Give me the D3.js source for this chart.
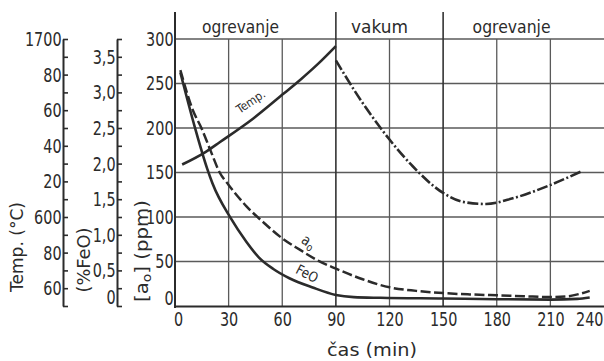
<!DOCTYPE html>
<html><head><meta charset="utf-8">
<script src="https://cdn.jsdelivr.net/npm/d3@7"></script>
<style>
html,body{margin:0;padding:0;background:#fff;}
svg{display:block;}
text{font-family:"DejaVu Sans",sans-serif;fill:#2b2b2b;}
</style></head><body>
<svg id="c" width="604" height="361"></svg>
<script>
// ---------- data ----------
const sections = ["ogrevanje", "vakum", "ogrevanje"];
const sectionStarts = [0, 90, 150];
const timeTicks = [0, 30, 60, 90, 120, 150, 180, 210, 240];
const ppmTicks = [0, 50, 100, 150, 200, 250, 300];
const feoTicks = [0, 0.5, 1, 1.5, 2, 2.5, 3, 3.5];
const feoTickLabels = ["0", "0,5", "1,0", "1,5", "2,0", "2,5", "3,0", "3,5"];
const tempTicks = [1560, 1580, 1600, 1620, 1640, 1660, 1680, 1700];
const tempTickLabels = ["60", "80", "600", "20", "40", "60", "80", "1700"];

const tempHeatTime = [4, 17, 25, 44, 61, 70, 80, 90];
const tempHeat = [1629.5, 1636.5, 1642, 1655.5, 1669.5, 1677, 1686, 1696];
const tempVacTime = [90, 104, 115, 120, 133, 150, 161, 174, 189, 210, 227];
const tempVac = [1688, 1665.5, 1650, 1643.5, 1628.5, 1613.5, 1608.5, 1607.3, 1610.5, 1618, 1625.5];
const aoTime = [3, 10, 15, 20, 25, 30, 40, 50, 60, 70, 80, 90, 105, 120, 135, 150, 165, 180, 195, 210, 220, 227, 232];
const aoPpm = [265, 220, 199, 174, 150, 136, 112, 93, 76, 63, 51, 42, 30, 21, 17, 14.5, 13, 12, 11, 10, 11, 14, 17];
const feoTime = [3, 11, 18, 21, 31, 40, 47, 55, 64, 77, 90, 100, 115, 150, 180, 210, 225, 232];
const feoPct = [3.28, 2.52, 1.93, 1.72, 1.24, 0.90, 0.68, 0.52, 0.39, 0.26, 0.155, 0.125, 0.115, 0.105, 0.095, 0.09, 0.10, 0.12];

// ---------- layout ----------
const svg = d3.select("#c");
const ink = "#2b2b2b", gridC = "#5a5a5a";
const x = d3.scaleLinear().domain([0, 240]).range([175, 604]);
const yP = d3.scaleLinear().domain([0, 300]).range([306, 39]);
const yF = d3.scaleLinear().domain([0, 3.75]).range([306, 39]);
const yT = d3.scaleLinear().domain([1550, 1700]).range([306, 39]);
const DIG = 0.72; // horizontal compression of the technical lettering

function label(g, px, py, s, o = {}) {
  const t = g.append("text")
    .attr("transform", `translate(${px},${py}) rotate(${o.rot || 0}) scale(${o.sx || 1},1)`)
    .attr("text-anchor", o.anchor || "middle")
    .attr("font-size", o.size || 16)
    .text(s);
  if (o.len) t.attr("textLength", o.len / (o.sx || 1)).attr("lengthAdjust", "spacingAndGlyphs");
  return t;
}

// grid
const grid = svg.append("g");
grid.selectAll("line.gh").data(ppmTicks.filter(d => d > 0)).join("line").attr("class", "gh")
  .attr("x1", x(0)).attr("x2", x(240)).attr("y1", d => yP(d)).attr("y2", d => yP(d))
  .attr("stroke", gridC).attr("stroke-width", 1.3);
grid.selectAll("line.gv").data(timeTicks.filter(d => d > 0 && d < 240)).join("line").attr("class", "gv")
  .attr("x1", d => x(d)).attr("x2", d => x(d))
  .attr("y1", d => sectionStarts.includes(d) ? 12 : yP(300)).attr("y2", yP(0))
  .attr("stroke", d => sectionStarts.includes(d) ? "#333" : gridC)
  .attr("stroke-width", d => sectionStarts.includes(d) ? 1.6 : 1.3);

// main ppm axis line and bottom axis
svg.append("line").attr("x1", x(0)).attr("x2", x(0)).attr("y1", 12).attr("y2", 308)
  .attr("stroke", ink).attr("stroke-width", 2);

const gx = svg.append("g").attr("transform", `translate(0,${yP(0)})`)
  .call(d3.axisBottom(x).tickValues(timeTicks).tickSize(0).tickPadding(6).tickFormat(d3.format("d")));
gx.attr("font-family", null).attr("font-size", 20);
gx.select(".domain").attr("stroke", ink).attr("stroke-width", 2);
gx.selectAll("text").attr("fill", ink).attr("transform", `scale(${DIG},1)`)
  .attr("x", d => d === 0 ? 3 / DIG : (d === 240 ? -1 / DIG : 0))
  .attr("text-anchor", d => d === 240 ? "end" : "middle");

const gp = svg.append("g").attr("transform", `translate(${x(0)},0)`)
  .call(d3.axisLeft(yP).tickValues(ppmTicks).tickSize(0).tickPadding(2));
gp.attr("font-family", null).attr("font-size", 20);
gp.select(".domain").remove();
gp.selectAll("text").attr("fill", ink).attr("transform", `scale(${DIG},1)`)
  .attr("dy", d => d === 0 ? "-1.6" : "0.32em");

// FeO axis
const gf = svg.append("g").attr("transform", "translate(117,0)")
  .call(d3.axisLeft(yF).tickValues(d3.range(0, 3.76, 0.25)).tickSizeInner(-5).tickSizeOuter(0).tickPadding(2)
    .tickFormat(d => { const i = feoTicks.findIndex(v => Math.abs(v - d) < 1e-6); return i >= 0 ? feoTickLabels[i] : ""; }));
gf.attr("font-family", null).attr("font-size", 20);
gf.select(".domain").attr("stroke", ink).attr("stroke-width", 2);
gf.selectAll(".tick line").attr("stroke", ink).attr("stroke-width", 1.6);
gf.selectAll("text").attr("fill", ink).attr("transform", `scale(${DIG},1)`)
  .attr("dy", d => d === 0 ? "-2.4" : "0.32em");

// Temp axis
const gt = svg.append("g").attr("transform", "translate(63,0)")
  .call(d3.axisLeft(yT).tickValues(d3.range(1550, 1701, 10)).tickSizeInner(-5).tickSizeOuter(0).tickPadding(2)
    .tickFormat(d => { const i = tempTicks.indexOf(d); return i >= 0 ? tempTickLabels[i] : ""; }));
gt.attr("font-family", null).attr("font-size", 20);
gt.select(".domain").attr("stroke", ink).attr("stroke-width", 2);
gt.selectAll(".tick line").attr("stroke", ink).attr("stroke-width", 1.6);
gt.selectAll("text").attr("fill", ink).attr("transform", `scale(${DIG},1)`);

// axis titles
label(svg, 23, 247, "Temp. (°C)", { rot: -90, size: 17, len: 90 });
label(svg, 90, 260, "(%FeO)", { rot: -90, size: 17, len: 65 });
const tAo = label(svg, 148, 251, "", { rot: -90, size: 17, len: 102 });
tAo.append("tspan").text("[a");
tAo.append("tspan").attr("font-size", 12).attr("dy", 3).text("o");
tAo.append("tspan").attr("dy", -3).text("] (ppm)");
label(svg, 372, 356, "čas (min)", { size: 18, len: 90 });

// section labels
const secOffsets = [-15, -10, -12];
const secWidths = [77, 57, 78];
sections.forEach((s, i) => {
  const end = i < sections.length - 1 ? sectionStarts[i + 1] : 240;
  label(svg, (x(sectionStarts[i]) + x(end)) / 2 + secOffsets[i], 33, s, { size: 17, len: secWidths[i] });
});

// curves
const lineOf = (xs, ys, yS) => d3.line().curve(d3.curveMonotoneX)(xs.map((t, i) => [x(t), yS(ys[i])]));
const curves = svg.append("g").attr("fill", "none").attr("stroke", ink).attr("stroke-linecap", "butt");
curves.append("path").attr("d", lineOf(tempHeatTime, tempHeat, yT)).attr("stroke-width", 2.6);
curves.append("path").attr("d", lineOf(tempVacTime, tempVac, yT)).attr("stroke-width", 2.6)
  .attr("stroke-dasharray", "11,2.5,2,2.5");
curves.append("path").attr("d", lineOf(aoTime, aoPpm, yP)).attr("stroke-width", 2.5)
  .attr("stroke-dasharray", "10,3.5");
curves.append("path").attr("d", lineOf(feoTime, feoPct, yF)).attr("stroke-width", 2.6);

// curve labels
label(svg, 253, 105, "Temp.", { rot: -34, size: 12, sx: 0.9 });
const la = label(svg, 306, 246, "", { rot: 33, size: 15, sx: 0.85 });
la.append("tspan").text("a");
la.append("tspan").attr("font-size", 11).attr("dy", 3).text("o");
label(svg, 305, 278, "FeO", { rot: 27, size: 14, sx: 0.85 });
</script>
</body></html>
